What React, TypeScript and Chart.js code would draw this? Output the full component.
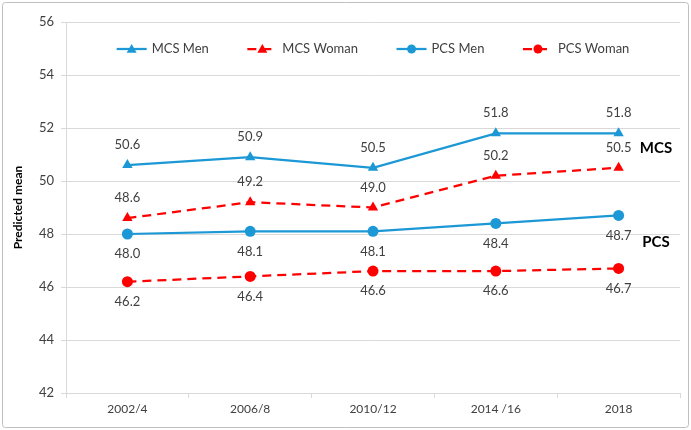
import React, { useEffect, useRef } from "react";
import { Chart, registerables } from "chart.js";

Chart.register(...registerables);

const categories = ["2002/4", "2006/8", "2010/12", "2014 /16", "2018"];
const mcsMen = [50.6, 50.9, 50.5, 51.8, 51.8];
const mcsWoman = [48.6, 49.2, 49.0, 50.2, 50.5];
const pcsMen = [48.0, 48.1, 48.1, 48.4, 48.7];
const pcsWoman = [46.2, 46.4, 46.6, 46.6, 46.7];
const seriesNames = ["MCS Men", "MCS Woman", "PCS Men", "PCS Woman"];
const yTicks = { min: 42, max: 56, step: 2 };
const groupLabels = [
  { text: "MCS", value: 51.25 },
  { text: "PCS", value: 47.7 },
];

const BLUE = "#1b98d5";
const RED = "#ff0000";
const FONT = "Lato, 'Open Sans', sans-serif";
const TEXT = "#404040";

// positions of the labels: above for MCS, below for PCS
const labelAbove = [true, true, false, false];

const drawMarker = (ctx: CanvasRenderingContext2D, style: string, x: number, y: number, r: number, color: string) => {
  ctx.save();
  ctx.fillStyle = color;
  ctx.beginPath();
  if (style === "triangle") {
    ctx.moveTo(x, y - r);
    ctx.lineTo(x + r, y + r * 0.75);
    ctx.lineTo(x - r, y + r * 0.75);
    ctx.closePath();
  } else {
    ctx.arc(x, y, r, 0, Math.PI * 2);
  }
  ctx.fill();
  ctx.restore();
};

const customPlugin = {
  id: "custom",
  beforeDraw(chart: any) {
    const ctx = chart.ctx;
    ctx.save();
    ctx.fillStyle = "#ffffff";
    ctx.fillRect(0, 0, chart.width, chart.height);
    ctx.strokeStyle = "#bfbfbf";
    ctx.lineWidth = 1;
    ctx.beginPath();
    const w = chart.width - 5;
    const h = chart.height - 5;
    const x0 = 2.5, y0 = 2.5, rr = 3;
    ctx.moveTo(x0 + rr, y0);
    ctx.lineTo(x0 + w - rr, y0);
    ctx.arcTo(x0 + w, y0, x0 + w, y0 + rr, rr);
    ctx.lineTo(x0 + w, y0 + h - rr);
    ctx.arcTo(x0 + w, y0 + h, x0 + w - rr, y0 + h, rr);
    ctx.lineTo(x0 + rr, y0 + h);
    ctx.arcTo(x0, y0 + h, x0, y0 + h - rr, rr);
    ctx.lineTo(x0, y0 + rr);
    ctx.arcTo(x0, y0, x0 + rr, y0, rr);
    ctx.stroke();
    ctx.restore();
  },
  afterDatasetsDraw(chart: any) {
    const ctx = chart.ctx;
    const area = chart.chartArea;
    const yScale = chart.scales.y;
    ctx.save();
    // data labels
    ctx.font = `13px ${FONT}`;
    ctx.fillStyle = TEXT;
    ctx.textAlign = "center";
    ctx.textBaseline = "middle";
    chart.data.datasets.forEach((ds: any, i: number) => {
      const meta = chart.getDatasetMeta(i);
      meta.data.forEach((pt: any, j: number) => {
        const v = ds.data[j] as number;
        const dy = labelAbove[i] ? -20 : 20;
        ctx.fillText(v.toFixed(1), pt.x, pt.y + dy);
      });
    });
    // group labels
    ctx.font = `bold 15px ${FONT}`;
    ctx.fillStyle = "#000000";
    groupLabels.forEach((g) => {
      ctx.fillText(g.text, area.right - 24, yScale.getPixelForValue(g.value));
    });
    // legend
    ctx.font = `13px ${FONT}`;
    ctx.textAlign = "left";
    const lineW = 30;
    const gapText = 5;
    const items = chart.data.datasets.map((ds: any) => ({
      ds,
      w: lineW + gapText + ctx.measureText(ds.label).width,
    }));
    const totalTarget = (area.right - area.left) * 0.835;
    const sumW = items.reduce((s: number, it: any) => s + it.w, 0);
    const spacing = (totalTarget - sumW) / (items.length - 1);
    let x = (area.left + area.right) / 2 - totalTarget / 2;
    const ly = area.top + 27;
    items.forEach((it: any) => {
      const ds = it.ds;
      ctx.save();
      ctx.strokeStyle = ds.borderColor;
      ctx.lineWidth = 2.25;
      ctx.setLineDash(ds.borderDash || []);
      ctx.beginPath();
      ctx.moveTo(x, ly);
      ctx.lineTo(x + lineW, ly);
      ctx.stroke();
      ctx.restore();
      drawMarker(ctx, ds.pointStyle, x + lineW / 2, ly, ds.pointStyle === "triangle" ? 5 : 4.5, ds.borderColor);
      ctx.fillStyle = TEXT;
      ctx.fillText(ds.label, x + lineW + gapText, ly);
      x += it.w + spacing;
    });
    ctx.restore();
  },
};

export default function App() {
  const ref = useRef<HTMLCanvasElement | null>(null);
  useEffect(() => {
    if (!ref.current) return;
    const mk = (label: string, data: number[], color: string, dashed: boolean, style: string) => ({
      label,
      data,
      borderColor: color,
      backgroundColor: color,
      borderWidth: 2.25,
      borderDash: dashed ? [9, 6] : [],
      pointStyle: style,
      pointRadius: style === "triangle" ? 6 : 5.5,
      pointHoverRadius: 6,
      pointBorderWidth: 0,
      tension: 0,
      fill: false,
    });
    const chart = new Chart(ref.current, {
      type: "line",
      data: {
        labels: categories,
        datasets: [
          mk(seriesNames[0], mcsMen, BLUE, false, "triangle"),
          mk(seriesNames[1], mcsWoman, RED, true, "triangle"),
          mk(seriesNames[2], pcsMen, BLUE, false, "circle"),
          mk(seriesNames[3], pcsWoman, RED, true, "circle"),
        ],
      },
      options: {
        responsive: false,
        animation: false,
        layout: { padding: { left: 0, top: 22, right: 11, bottom: 0 } },
        plugins: {
          legend: { display: false },
          tooltip: { enabled: false },
        },
        scales: {
          x: {
            offset: true,
            grid: { display: true, offset: true, drawOnChartArea: false, tickLength: 5, color: "#d9d9d9" },
            border: { color: "#d9d9d9" },
            ticks: { color: TEXT, font: { family: FONT, size: 12 }, padding: 4, maxRotation: 0 },
            afterFit: (s: any) => {
              s.height = 37;
            },
          },
          y: {
            min: yTicks.min,
            max: yTicks.max,
            ticks: { stepSize: yTicks.step, color: TEXT, font: { family: FONT, size: 13 }, padding: 7 },
            grid: { color: "#d9d9d9", tickLength: 5 },
            border: { color: "#d9d9d9" },
            title: {
              display: true,
              text: "Predicted mean",
              color: "#000000",
              font: { family: FONT, size: 12, weight: "bold" },
              padding: { top: 11, bottom: 0 },
            },
            afterFit: (s: any) => {
              s.width = 66;
            },
          },
        },
      },
      plugins: [customPlugin],
    } as any);
    return () => chart.destroy();
  }, []);
  return (
    <div style={{ position: "fixed", left: 0, top: 0, width: 691, height: 430 }}>
      <canvas ref={ref} width={691} height={430} />
    </div>
  );
}
